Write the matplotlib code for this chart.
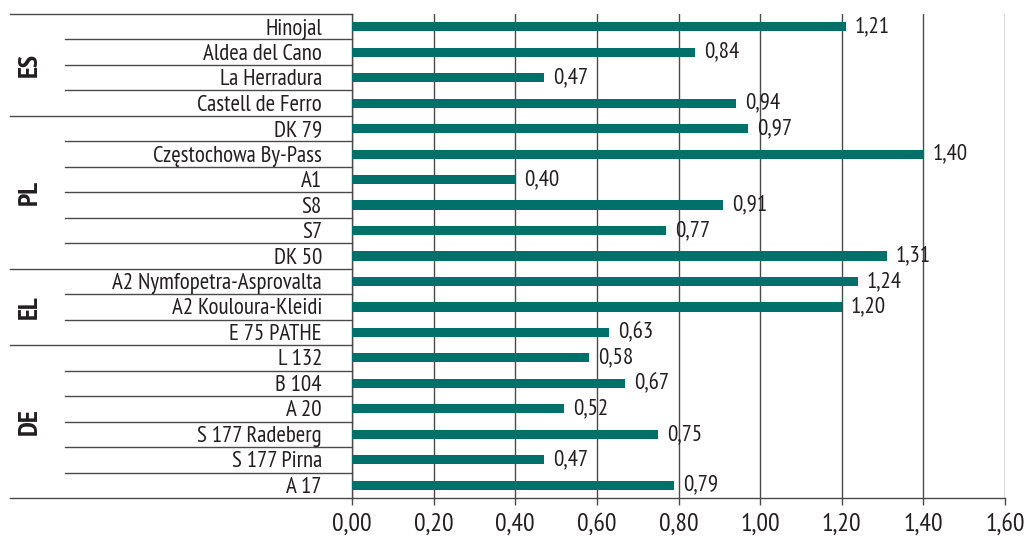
import matplotlib
matplotlib.use("Agg")
import matplotlib.pyplot as plt
from matplotlib import font_manager

# ── Data ──────────────────────────────────────────────────────────────────────
sections = ["Hinojal", "Aldea del Cano", "La Herradura", "Castell de Ferro",
            "DK 79", "Częstochowa By-Pass", "A1", "S8", "S7", "DK 50",
            "A2 Nymfopetra-Asprovalta", "A2 Kouloura-Kleidi", "E 75 PATHE",
            "L 132", "B 104", "A 20", "S 177 Radeberg", "S 177 Pirna", "A 17"]
values = [1.21, 0.84, 0.47, 0.94,
          0.97, 1.40, 0.40, 0.91, 0.77, 1.31,
          1.24, 1.20, 0.63,
          0.58, 0.67, 0.52, 0.75, 0.47, 0.79]
countries = ["ES", "PL", "EL", "DE"]
group_sizes = [4, 6, 3, 6]
xticks = [0.0, 0.2, 0.4, 0.6, 0.8, 1.0, 1.2, 1.4, 1.6]

# ── Style ─────────────────────────────────────────────────────────────────────
BAR_COLOUR = "#00706b"
TEXT_COLOUR = "#231f20"
LINE_COLOUR = "#4a4a4a"
LABEL_SIZE = 16.5

# condensed face close to the original's Myriad Condensed
installed = {f.name for f in font_manager.fontManager.ttflist}
candidates = ["PT Sans Narrow", "Fira Sans Condensed", "Roboto Condensed",
              "Archivo Narrow", "Asap Condensed", "DejaVu Sans"]
FONT = next(c for c in candidates if c in installed)
plt.rcParams["font.family"] = [FONT, "DejaVu Sans"]

fig = plt.figure(figsize=(10.28, 5.43), dpi=100)
ax = fig.add_axes([352 / 1028, 45 / 543, 653 / 1028, 484 / 543])

n = len(sections)
ys = list(range(n))
ax.barh(ys, values, height=0.36, color=BAR_COLOUR, zorder=3)
ax.set_ylim(n - 0.5, -0.5)
ax.set_xlim(0, 1.6)

# value labels
for y, v in zip(ys, values):
    ax.annotate(f"{v:.2f}".replace(".", ","), (v, y), xytext=(6.5, 0),
                textcoords="offset points", va="center", ha="left",
                fontsize=LABEL_SIZE, color=TEXT_COLOUR)

# x axis
ax.set_xticks(xticks)
ax.set_xticklabels([f"{t:.2f}".replace(".", ",") for t in xticks],
                   fontsize=18.5, color=TEXT_COLOUR)
ax.tick_params(axis="x", length=5, width=1, color=LINE_COLOUR, pad=6)
ax.set_yticks([])
ax.grid(axis="x", color=LINE_COLOUR, linewidth=1, zorder=1)
for side in ("top", "right"):
    ax.spines[side].set_visible(False)
for side in ("left", "bottom"):
    ax.spines[side].set_color(LINE_COLOUR)
    ax.spines[side].set_linewidth(1)

# category labels + separators on the left
tr = ax.get_yaxis_transform()
for y, name in zip(ys, sections):
    ax.text(-0.046, y + 0.08, name, transform=tr, ha="right", va="center",
            fontsize=LABEL_SIZE, color=TEXT_COLOUR)

group_edges = [-0.5]
for size in group_sizes:
    group_edges.append(group_edges[-1] + size)

for b in [i - 0.5 for i in range(n + 1)]:
    x0 = -0.524 if b in group_edges else -0.4395
    ax.plot([x0, 0], [b, b], transform=tr, color=LINE_COLOUR, linewidth=1,
            clip_on=False)

for name, lo, hi in zip(countries, group_edges[:-1], group_edges[1:]):
    ax.text(-0.493, (lo + hi) / 2, name, transform=tr, rotation=90,
            ha="center", va="center", fontsize=20, fontweight="bold",
            color=TEXT_COLOUR)

fig.savefig("out.png", dpi=100)
